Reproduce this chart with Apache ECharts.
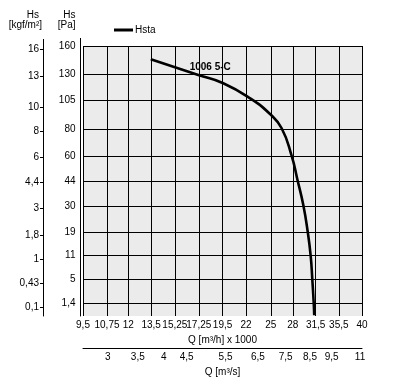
<!DOCTYPE html>
<html><head><meta charset="utf-8">
<script src="https://cdn.jsdelivr.net/npm/echarts@6/dist/echarts.min.js"></script>
<style>html,body{margin:0;padding:0;background:#fff}#c{width:404px;height:391px}</style>
</head><body><div id="c"></div>
<script>
// Tick labels
const qTicks = [9.5, 10.75, 12, 13.5, 15.25, 17.25, 19.5, 22, 25, 28, 31.5, 35.5, 40]; // m³/h x 1000 (log axis)
const paTicks = [1.4, 5, 11, 19, 30, 44, 60, 80, 105, 130, 160];                      // Pa (sqrt axis)
const kgfTicks = [0.1, 0.43, 1, 1.8, 3, 4.4, 6, 8, 10, 13, 16];                       // kgf/m²
const qsTicks = [3, 3.5, 4, 4.5, 5.5, 6.5, 7.5, 8.5, 9.5, 11];                        // m³/s
const paRange = [0.36, 160];
// Curve "1006 5-C" (Hsta)
const curveQ  = [13.47, 17.21, 19.57, 22.58, 24.9, 26.42, 27.82, 28.69, 29.56, 30.24, 30.71, 30.96, 31.19, 31.27];
const curvePa = [145.3, 128.9, 120.7, 105.8, 92.4, 80.8, 60.3, 44.5, 30.8, 19.0, 10.7, 5.07, 1.39, 0.4];
const curveName = 'Hsta';
const curveLabel = '1006 5-C';
const curveLabelAt = [18.3, 137];

const KGF = 9.80665, M3S = 3.6;
const FONT = "'Liberation Sans', Arial, sans-serif";
const fmt = v => String(v).replace('.', ',');
const nearest = (arr, v) => arr.reduce((b, a) => Math.abs(a - v) < Math.abs(b - v) ? a : b);
const sq = Math.sqrt;

const chart = echarts.init(document.getElementById('c'), null, {renderer: 'canvas'});
const txt = {color: '#000', fontSize: 10, fontFamily: FONT};

chart.setOption({
  animation: false,
  textStyle: {fontFamily: FONT},
  grid: {left: 83, right: 42, top: 46, bottom: 75, show: true, backgroundColor: '#ebebeb', borderWidth: 0},
  legend: {
    data: [curveName], left: 114, top: 25, padding: 0, icon: 'rect', itemWidth: 19, itemHeight: 3,
    textStyle: Object.assign({}, txt, {padding: [0, 0, 0, -3]})
  },
  xAxis: [
    {
      type: 'log', min: qTicks[0], max: qTicks[qTicks.length - 1], position: 'bottom',
      name: 'Q [m³/h] x 1000', nameLocation: 'middle', nameGap: 18, nameTextStyle: txt,
      axisLine: {show: false},
      axisTick: {show: false, customValues: qTicks},
      axisLabel: Object.assign({customValues: qTicks, margin: 4, formatter: v => fmt(nearest(qTicks, v))}, txt),
      splitLine: {show: true, lineStyle: {color: '#000', width: 1}}
    },
    {
      type: 'log', min: qTicks[0], max: qTicks[qTicks.length - 1], position: 'bottom', offset: 32,
      name: 'Q [m³/s]', nameLocation: 'middle', nameGap: 15, nameTextStyle: txt,
      axisLine: {show: true, lineStyle: {color: '#000', width: 1}},
      axisTick: {show: false, customValues: qsTicks.map(v => v * M3S)},
      axisLabel: Object.assign({customValues: qsTicks.map(v => v * M3S), margin: 4,
        formatter: v => fmt(nearest(qsTicks, v / M3S))}, txt),
      splitLine: {show: false}
    }
  ],
  yAxis: [
    {
      type: 'value', min: sq(paRange[0]), max: sq(paRange[1]), position: 'left', offset: 2.5,
      name: 'Hs\n[Pa]', nameLocation: 'end', nameGap: 16,
      nameTextStyle: Object.assign({}, txt, {align: 'right', lineHeight: 10, padding: [0, 5, 0, 0]}),
      axisLine: {show: true, lineStyle: {color: '#000', width: 1}},
      axisTick: {show: false, customValues: paTicks.map(sq)},
      axisLabel: Object.assign({customValues: paTicks.map(sq), margin: 5,
        formatter: v => fmt(nearest(paTicks, v * v))}, txt),
      splitLine: {show: true, lineStyle: {color: '#000', width: 1}}
    },
    {
      type: 'value', min: sq(paRange[0]), max: sq(paRange[1]), position: 'left', offset: 40,
      name: '{a|Hs}\n{b|[kgf/m²]}', nameLocation: 'end', nameGap: 16,
      nameTextStyle: Object.assign({}, txt, {align: 'right', lineHeight: 10,
        rich: {a: {fontSize: 10, fontFamily: FONT, color: '#000', padding: [0, 4, 0, 0], lineHeight: 10},
               b: {fontSize: 10, fontFamily: FONT, color: '#000', padding: [0, 1, 0, 0], lineHeight: 10}}}),
      axisLine: {show: true, lineStyle: {color: '#000', width: 1}},
      axisTick: {show: true, length: 3, lineStyle: {color: '#000'}, customValues: kgfTicks.map(k => sq(k * KGF))},
      axisLabel: Object.assign({customValues: kgfTicks.map(k => sq(k * KGF)), margin: 4,
        padding: [0, 0, 2, 0],
        formatter: v => fmt(nearest(kgfTicks, v * v / KGF))}, txt),
      splitLine: {show: false}
    }
  ],
  graphic: [
    {type: 'line', shape: {x1: 80.5, y1: 38, x2: 80.5, y2: 46}, style: {stroke: '#000', lineWidth: 1}},
    {type: 'line', shape: {x1: 43.5, y1: 39, x2: 43.5, y2: 46}, style: {stroke: '#000', lineWidth: 1}}
  ],
  series: [{
    name: curveName, type: 'line', xAxisIndex: 0, yAxisIndex: 0,
    data: curveQ.map((q, i) => [q, sq(curvePa[i])]),
    showSymbol: false, smooth: 0.5, clip: true,
    lineStyle: {color: '#000', width: 2.6, join: 'round'}, itemStyle: {color: '#000'},
    markPoint: {
      symbol: 'circle', symbolSize: 2, silent: true,
      itemStyle: {color: 'rgba(0,0,0,0)'},
      label: {show: true, position: 'inside', color: '#000', fontSize: 10, fontWeight: 'bold', fontFamily: FONT},
      data: [{name: curveLabel, coord: [curveLabelAt[0], sq(curveLabelAt[1])],
        label: {show: true, position: 'inside', formatter: curveLabel, color: '#000',
          fontSize: 10, fontWeight: 'bold', fontFamily: FONT}}]
    }
  }]
});
</script></body></html>
